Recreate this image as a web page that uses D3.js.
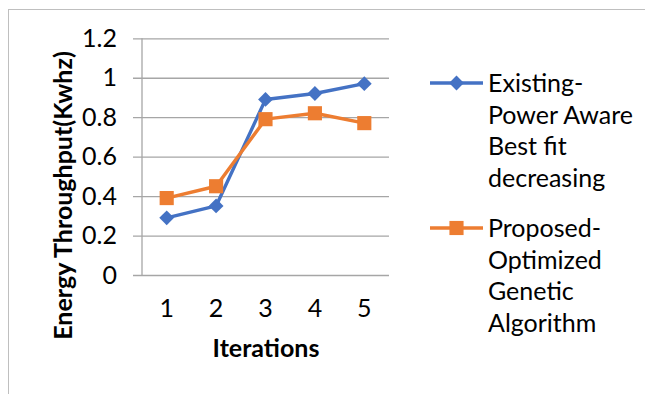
<!DOCTYPE html>
<html>
<head>
<meta charset="utf-8">
<script src="https://cdn.jsdelivr.net/npm/d3@7"></script>
<style>
  html, body { margin: 0; padding: 0; background: #fff; }
  svg { display: block; font-family: Lato, "Open Sans", sans-serif; }
</style>
</head>
<body>
<svg id="chart" width="645" height="394"></svg>
<script>
// Iterations on the x axis
const categories = ["1", "2", "3", "4", "5"];
// Energy throughput per iteration for each method
const existingValues = [0.29, 0.35, 0.89, 0.92, 0.97];
const proposedValues = [0.39, 0.45, 0.79, 0.82, 0.77];
const yTicks = [0, 0.2, 0.4, 0.6, 0.8, 1, 1.2];
const seriesNames = [
  ["Existing-", "Power Aware", "Best fit", "decreasing"],
  ["Proposed-", "Optimized", "Genetic", "Algorithm"]
];

const svg = d3.select("#chart");
const W = 645, H = 394;
const FS = 25;

// outer chart frame
svg.append("rect")
  .attr("x", 8.5).attr("y", 9.5)
  .attr("width", W + 20).attr("height", H + 20)
  .attr("fill", "none").attr("stroke", "#bfbfbf").attr("stroke-width", 1);

const plot = { left: 142, right: 389, top: 38.3, bottom: 275 };

const x = d3.scaleBand().domain(categories).range([plot.left, plot.right]);
const y = d3.scaleLinear().domain([0, 1.2]).range([plot.bottom, plot.top]);

// horizontal gridlines with outside ticks
const yAxis = d3.axisLeft(y)
  .tickValues(yTicks)
  .tickFormat(d => d3.format("~g")(d))
  .tickSize(-(plot.right - plot.left))
  .tickPadding(25);
const gy = svg.append("g").attr("transform", `translate(${plot.left},0)`).call(yAxis);
gy.select(".domain").remove();
gy.selectAll(".tick line")
  .attr("x1", -9)
  .attr("stroke", "#a6a6a6").attr("stroke-width", 1.3);
gy.selectAll(".tick text")
  .attr("fill", "#000").attr("font-size", FS).attr("font-family", "Lato");

// vertical axis line
svg.append("line")
  .attr("x1", plot.left).attr("x2", plot.left)
  .attr("y1", plot.top).attr("y2", plot.bottom)
  .attr("stroke", "#a6a6a6").attr("stroke-width", 1.3);

// category labels
const xAxis = d3.axisBottom(x).tickSize(0).tickPadding(24);
const gx = svg.append("g").attr("transform", `translate(0,${plot.bottom})`).call(xAxis);
gx.select(".domain").remove();
gx.selectAll(".tick text")
  .attr("fill", "#000").attr("font-size", FS).attr("font-family", "Lato");

// axis titles
svg.append("text")
  .attr("x", 266).attr("y", 357)
  .attr("text-anchor", "middle")
  .attr("font-size", FS).attr("font-weight", "bold")
  .text("Iterations");

svg.append("text")
  .attr("transform", `translate(72,195.5) rotate(-90)`)
  .attr("text-anchor", "middle")
  .attr("font-size", FS).attr("font-weight", "bold")
  .text("Energy Throughput(Kwhz)");

const blue = "#4472c4", orange = "#ed7d31";
const cx = d => x(d) + x.bandwidth() / 2;

const line = d3.line().x((d, i) => cx(categories[i])).y(d => y(d));

function drawSeries(values, color, shape, size) {
  svg.append("path")
    .datum(values)
    .attr("d", line)
    .attr("fill", "none")
    .attr("stroke", color)
    .attr("stroke-width", 3.4)
    .attr("stroke-linejoin", "round");
  svg.append("g").selectAll("path")
    .data(values)
    .join("path")
    .attr("transform", (d, i) => `translate(${cx(categories[i])},${y(d)})`)
    .attr("d", d3.symbol().type(shape).size(size)())
    .attr("fill", color);
}

drawSeries(existingValues, blue, d3.symbolDiamond2, 140);
drawSeries(proposedValues, orange, d3.symbolSquare, 200);

// legend
const legend = [
  { color: blue, shape: d3.symbolDiamond2, size: 140, y: 83, lines: seriesNames[0] },
  { color: orange, shape: d3.symbolSquare, size: 200, y: 228, lines: seriesNames[1] }
];
legend.forEach(item => {
  const g = svg.append("g");
  g.append("line")
    .attr("x1", 430).attr("x2", 483)
    .attr("y1", item.y).attr("y2", item.y)
    .attr("stroke", item.color).attr("stroke-width", 3.4);
  g.append("path")
    .attr("transform", `translate(456.5,${item.y})`)
    .attr("d", d3.symbol().type(item.shape).size(item.size)())
    .attr("fill", item.color);
  const t = g.append("text")
    .attr("font-size", FS).attr("fill", "#000");
  item.lines.forEach((s, i) => {
    t.append("tspan")
      .attr("x", 488).attr("y", item.y + 9 + i * 31.7)
      .text(s);
  });
});
</script>
</body>
</html>
